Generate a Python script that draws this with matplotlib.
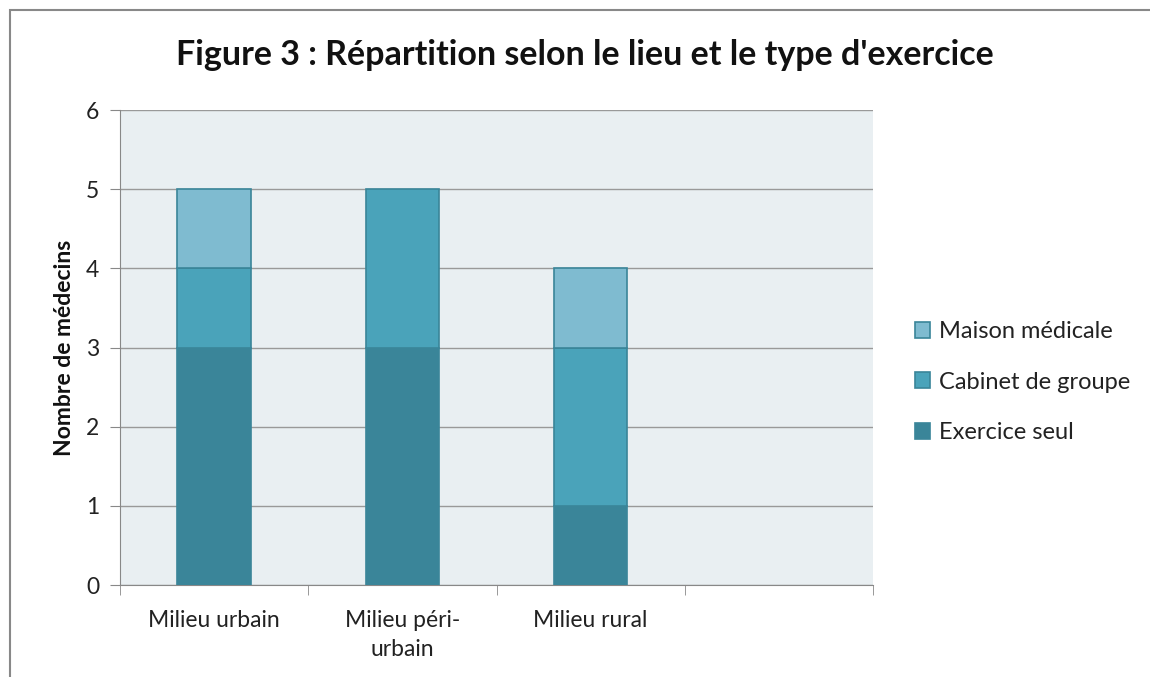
import matplotlib.pyplot as plt
import numpy as np
from matplotlib.patches import Rectangle

plt.rcParams['font.family'] = ['Lato', 'DejaVu Sans']

# donnees
categories = ['Milieu urbain', 'Milieu péri-\nurbain', 'Milieu rural', '']
exercice_seul = [3, 3, 1, 0]
cabinet_groupe = [1, 2, 2, 0]
maison_medicale = [1, 0, 1, 0]

c_seul = '#3A8599'
c_groupe = '#4AA3BA'
c_maison = '#7FBBD0'
bord = '#3A8599'

fig = plt.figure(figsize=(11.5, 6.77), dpi=100)
fig.patches.append(Rectangle((10 / 1150, -0.01), 1.2, 1 - 10 / 677 + 0.01,
                             transform=fig.transFigure, fill=False,
                             edgecolor='#888888', linewidth=1.5))
ax = fig.add_axes([120 / 1150, 1 - 585 / 677, (873 - 120) / 1150, (585 - 110) / 677])
ax.set_facecolor('#E9EFF2')

x = np.arange(len(categories))
largeur = 0.39


def epaisseur(vals):
    # pas de contour pour les barres vides
    return [1.2 if v > 0 else 0 for v in vals]


bas1 = np.array(exercice_seul)
bas2 = bas1 + np.array(cabinet_groupe)
ax.bar(x, exercice_seul, largeur, color=c_seul, edgecolor=bord,
       linewidth=epaisseur(exercice_seul), label='Exercice seul', zorder=3)
ax.bar(x, cabinet_groupe, largeur, bottom=bas1, color=c_groupe, edgecolor=bord,
       linewidth=epaisseur(cabinet_groupe), label='Cabinet de groupe', zorder=3)
ax.bar(x, maison_medicale, largeur, bottom=bas2, color=c_maison, edgecolor=bord,
       linewidth=epaisseur(maison_medicale), label='Maison médicale', zorder=3)

ax.set_xlim(-0.5, len(categories) - 0.5)
ax.set_ylim(0, 6)
ax.set_yticks(range(0, 7))
ax.yaxis.grid(True, color='#999999', linewidth=1, zorder=0)
ax.set_axisbelow(True)

ax.set_xticks(x)
ax.set_xticklabels(categories, fontsize=16.5, color='#222222', linespacing=1.5)
ax.set_xticks(np.arange(-0.5, len(categories)), minor=True)
ax.tick_params(axis='x', which='major', length=0, pad=18)
ax.tick_params(axis='x', which='minor', length=7, color='#888888')
ax.tick_params(axis='y', length=7, color='#888888', labelsize=16.5,
               labelcolor='#222222', pad=8)

for s in ['top', 'right']:
    ax.spines[s].set_visible(False)
for s in ['left', 'bottom']:
    ax.spines[s].set_color('#888888')

ax.set_ylabel('Nombre de médecins', fontsize=16.5, fontweight='bold',
              color='#111111', labelpad=8)

fig.text(585 / 1150, 1 - 55 / 677, "Figure 3 : Répartition selon le lieu et le type d'exercice",
         ha='center', va='center', fontsize=24.5, fontweight='bold', color='#111111')

h, l = ax.get_legend_handles_labels()
fig.legend(h[::-1], l[::-1], loc='center left',
           bbox_to_anchor=(915 / 1150, 1 - 382 / 677), borderpad=0, borderaxespad=0,
           frameon=False, fontsize=17, handlelength=0.65, handleheight=0.65,
           handletextpad=0.35, labelspacing=1.25, labelcolor='#222222')

fig.savefig('out.png', dpi=100)
